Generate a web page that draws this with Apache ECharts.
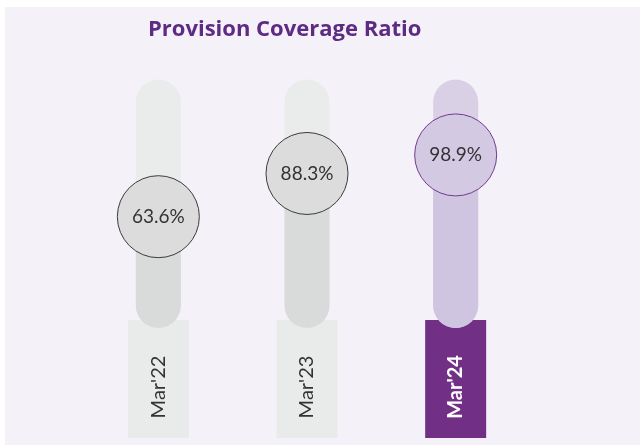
<!DOCTYPE html>
<html>
<head>
<meta charset="utf-8">
<script src="https://cdn.jsdelivr.net/npm/echarts@6/dist/echarts.min.js"></script>
<style>
  html, body { margin: 0; padding: 0; background: #ffffff; }
  #chart { position: absolute; left: 5px; top: 7px; width: 635px; height: 438px; background: #f4f1f8; }
</style>
</head>
<body>
<div id="chart"></div>
<script>
var categories = ['Mar\'22', 'Mar\'23', 'Mar\'24']
var ratios = [63.6, 88.3, 98.9]
var trackTop = 142 // scale value where the pills end

var font = 'Lato'
var greyTrack = '#eaeceb', greyFill = '#d9dbda', greyDot = '#dcdcdc'
var lilacTrack = '#dad0e6', lilacFill = '#cfc5e0', lilacDot = '#d4c9e3'
var purple = '#722f86'

var myChart = echarts.init(document.getElementById('chart'))

var last = categories.length - 1
var option = {
  animation: false,
  title: {
    text: 'Provision Coverage Ratio',
    left: 138,
    top: 7,
    textStyle: { color: '#5e2b84', fontSize: 22, fontWeight: 'bold', fontFamily: 'Open Sans' }
  },
  grid: { left: 79, right: 110, top: 72.5, bottom: 117, outerBoundsMode: 'none' },
  xAxis: {
    type: 'category',
    data: categories,
    axisLine: { show: false },
    axisTick: { show: false },
    axisLabel: {
      interval: 0,
      rotate: 90,
      margin: -8,
      formatter: function(value, index) {
        return index === last ? '{p|' + value + '}' : '{g|' + value + '}'
      },
      rich: {
        g: {
          width: 102, height: 61, padding: [0, 16, 0, 0], align: 'center',
          backgroundColor: '#e9ebea', color: '#333333', fontSize: 20, fontFamily: font
        },
        p: {
          width: 102, height: 61, padding: [0, 16, 0, 0], align: 'center',
          backgroundColor: purple, color: '#ffffff', fontSize: 20, fontWeight: 'bold', fontFamily: font
        }
      }
    }
  },
  yAxis: { type: 'value', min: 0, max: trackTop, show: false },
  series: [
    {
      type: 'bar',
      silent: true,
      barWidth: 45,
      data: categories.map(function(c, i) {
        return { value: trackTop, itemStyle: { color: i === last ? lilacTrack : greyTrack } }
      }),
      itemStyle: { borderRadius: 22.5 }
    },
    {
      type: 'bar',
      silent: true,
      barWidth: 45,
      barGap: '-100%',
      data: ratios.map(function(v, i) {
        return { value: v, itemStyle: { color: i === last ? lilacFill : greyFill } }
      }),
      itemStyle: { borderRadius: 22.5 }
    },
    {
      type: 'scatter',
      symbol: 'circle',
      symbolSize: 82,
      data: ratios.map(function(v, i) {
        return {
          value: v,
          itemStyle: {
            color: i === last ? lilacDot : greyDot,
            borderColor: i === last ? '#6f3b8f' : '#3a3a3a',
            borderWidth: 1,
            opacity: 1
          }
        }
      }),
      label: {
        show: true,
        position: 'inside',
        color: '#333333',
        fontSize: 19,
        fontFamily: font,
        formatter: function(p) { return p.value.toFixed(1) + '%' }
      }
    }
  ]
}

myChart.setOption(option)
window.addEventListener('resize', function() {
  myChart.resize()
})
</script>
</body>
</html>
